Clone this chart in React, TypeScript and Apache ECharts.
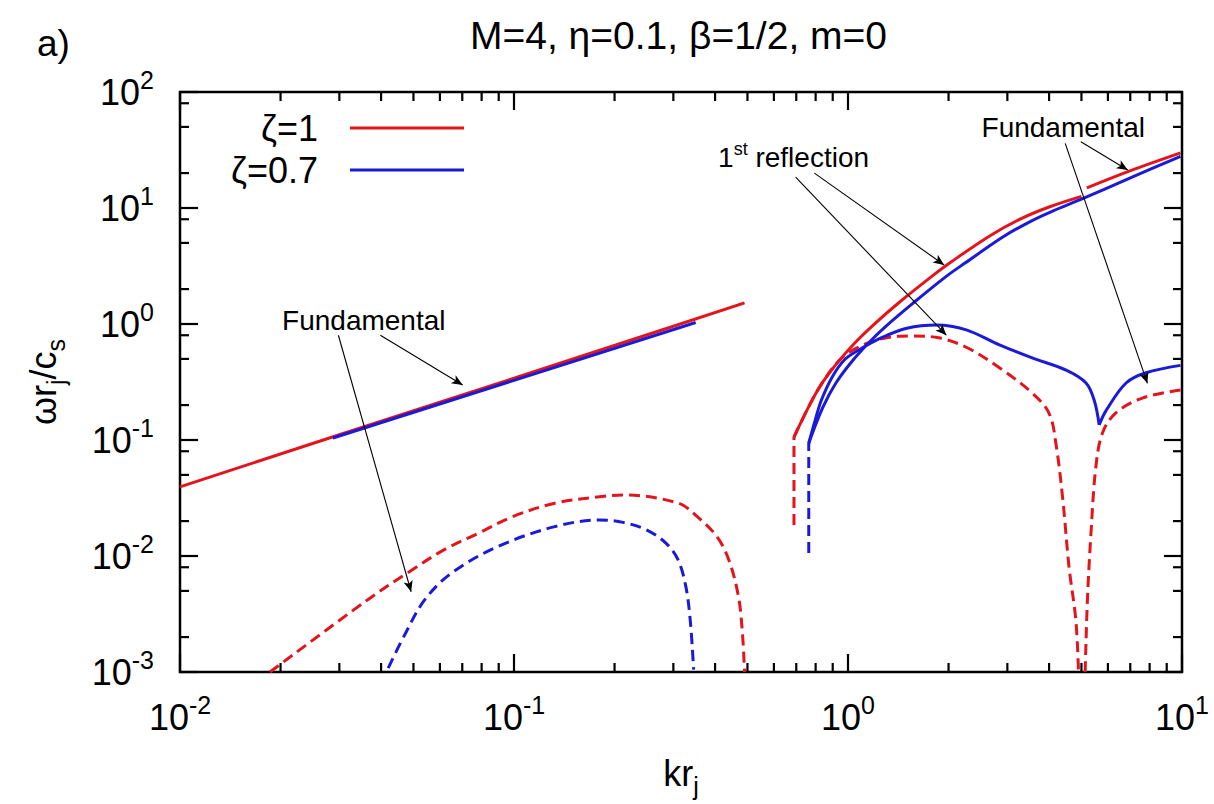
import React, { useEffect, useRef } from "react";
import * as echarts from "echarts";

const RED = "#e3141c";
const BLUE = "#1a1ad8";
const FONT = "'Liberation Sans', Arial, Helvetica, sans-serif";

// ---- data: [kr_j, ωr_j/c_s] ----
// zeta = 1 (red)
const redFundLow: [number, number][] = [
  [0.01, 0.0394], [0.03, 0.111], [0.1, 0.341], [0.3, 0.957], [0.49, 1.52],
];
const redImagLow: [number, number][] = [
  [0.0186, 0.001], [0.0364, 0.00418], [0.0486, 0.00733],
  [0.0617, 0.0113], [0.0781, 0.0157], [0.099, 0.0218], [0.1324, 0.0285],
  [0.1803, 0.0324], [0.212, 0.0336], [0.31, 0.0286], [0.354, 0.0218],
  [0.405, 0.0147], [0.44, 0.0092], [0.47, 0.00446], [0.483, 0.00215], [0.49, 0.001],
];
const redImagCut: [number, number][] = [[0.689, 0.0185], [0.689, 0.106]];
const redFundHigh: [number, number][] = [
  [0.689, 0.106], [0.767, 0.2], [0.84, 0.315], [0.942, 0.486], [1.06, 0.71],
  [1.19, 0.98], [1.425, 1.54], [1.79, 2.6], [2.04, 3.44], [2.67, 5.8],
  [3.3, 8.1], [4.0, 10.2], [5.0, 12.6],
];
const redFundTop: [number, number][] = [[5.19, 14.9], [6.95, 20.8], [9.9, 29.9]];
const redReflLeft: [number, number][] = [
  [0.689, 0.106], [0.767, 0.2], [0.84, 0.315], [0.942, 0.486], [1.06, 0.62],
  [1.27, 0.75], [1.53, 0.79], [1.87, 0.76], [2.26, 0.63], [2.84, 0.42],
  [3.56, 0.254], [4.0, 0.17], [4.2, 0.09], [4.4, 0.03], [4.59, 0.008],
  [4.81, 0.0028], [4.9, 0.001],
];
const redReflRight: [number, number][] = [
  [5.13, 0.001], [5.21, 0.0042], [5.34, 0.0158], [5.52, 0.058], [5.78, 0.115],
  [6.34, 0.171], [7.61, 0.23], [9.9, 0.27],
];

// zeta = 0.7 (blue)
const blueFundLow: [number, number][] = [[0.0287, 0.104], [0.1, 0.327], [0.35, 1.03]];
const blueImagLow: [number, number][] = [
  [0.042, 0.00108], [0.0473, 0.00215], [0.054, 0.00418], [0.0649, 0.0071],
  [0.0891, 0.012], [0.1324, 0.0179], [0.1803, 0.0204], [0.212, 0.0195],
  [0.249, 0.0168], [0.2855, 0.01285], [0.31, 0.00924], [0.327, 0.00544],
  [0.337, 0.0028], [0.345, 0.00105],
];
const blueImagCut: [number, number][] = [[0.763, 0.0106], [0.763, 0.094]];
const blueFundHigh: [number, number][] = [
  [0.763, 0.094], [0.84, 0.19], [0.92, 0.31], [1.03, 0.48], [1.16, 0.7],
  [1.3, 0.96], [1.56, 1.5], [1.96, 2.55], [2.24, 3.35], [2.9, 5.6],
  [3.5, 7.6], [4.1, 9.4], [5.0, 11.9], [6.95, 18.0], [9.9, 27.9],
];
const blueReflLeft: [number, number][] = [
  [0.763, 0.094], [0.798, 0.149], [0.832, 0.22], [0.897, 0.35], [0.975, 0.49],
  [1.08, 0.6], [1.27, 0.77], [1.5, 0.92], [1.84, 0.98], [2.26, 0.89],
  [2.84, 0.66], [3.56, 0.51], [4.5, 0.4], [5.16, 0.31], [5.46, 0.22],
  [5.65, 0.135],
];
const blueReflRight: [number, number][] = [
  [5.65, 0.135], [5.93, 0.18], [6.8, 0.31], [7.8, 0.38], [9.9, 0.44],
];

// ---- axes ----
const xMajorTicks = [0.01, 0.1, 1, 10];
const xMinorTicks = [
  0.02, 0.03, 0.04, 0.05, 0.06, 0.07, 0.08, 0.09,
  0.2, 0.3, 0.4, 0.5, 0.6, 0.7, 0.8, 0.9,
  2, 3, 4, 5, 6, 7, 8, 9,
];
const yMajorTicks = [0.001, 0.01, 0.1, 1, 10, 100];
const yMinorTicks = [0.002, 0.005, 0.008, 0.02, 0.05, 0.08, 0.2, 0.5, 0.8, 2, 5, 8, 20, 50, 80];

// ---- texts ----
const titleText = "M=4, η=0.1, β=1/2, m=0";
const panelText = "a)";
const legendItems = [
  { label: "ζ=1", color: RED },
  { label: "ζ=0.7", color: BLUE },
];
const annotationTexts = [
  { text: "{a|Fundamental}", at: [0.0355, 1.08] },
  { text: "{a|1}{s|st}{a| reflection}", at: [0.687, 27.5] },
  { text: "{a|Fundamental}", at: [4.41, 49] },
];
const arrowLines: [number, number][][] = [
  [[0.0398, 0.8], [0.0702, 0.298]],
  [[0.0298, 0.8], [0.0492, 0.00492]],
  [[0.697, 18.5], [1.97, 0.8]],
  [[0.793, 20.0], [1.94, 3.23]],
  [[4.98, 37.3], [6.88, 21.3]],
  [[4.47, 36.1], [7.88, 0.308]],
];

const lineSeries = (data: [number, number][], color: string, dashed: boolean, smooth = 0.35) => ({
  type: "line",
  data,
  showSymbol: false,
  symbol: "none",
  smooth,
  silent: true,
  z: 3,
  lineStyle: { color, width: 3, type: dashed ? [11, 6] : "solid", cap: "butt" },
  itemStyle: { color },
});

const tickSeries = (axis: "x" | "y", values: number[], len: number) => ({
  type: "custom",
  silent: true,
  z: 6,
  clip: false,
  data: values.map((v) => (axis === "x" ? [v, 1] : [1, v])),
  renderItem: (params: any, api: any) => {
    const cs = params.coordSys;
    const p = api.coord([api.value(0), api.value(1)]);
    const st = { stroke: "#000", lineWidth: 2.2 };
    if (axis === "x") {
      const b = cs.y + cs.height;
      const t = cs.y;
      return {
        type: "group",
        children: [
          { type: "line", shape: { x1: p[0], y1: b, x2: p[0], y2: b - len }, style: st },
          { type: "line", shape: { x1: p[0], y1: t, x2: p[0], y2: t + len }, style: st },
        ],
      };
    }
    const l = cs.x;
    const r = cs.x + cs.width;
    return {
      type: "group",
      children: [
        { type: "line", shape: { x1: l, y1: p[1], x2: l + len, y2: p[1] }, style: st },
        { type: "line", shape: { x1: r, y1: p[1], x2: r - len, y2: p[1] }, style: st },
      ],
    };
  },
});

const expLabel = (v: number) => `{b|10}{s|${Math.round(Math.log10(v))}}`;
const labelRich = {
  b: { fontSize: 36, fontFamily: FONT, color: "#000", lineHeight: 50 },
  s: { fontSize: 25, fontFamily: FONT, color: "#000", verticalAlign: "top" },
};

export default function App() {
  const ref = useRef<HTMLDivElement>(null);
  useEffect(() => {
    if (!ref.current) return;
    const chart = echarts.init(ref.current, undefined, { renderer: "svg" });
    const option: any = {
      animation: false,
      backgroundColor: "#fff",
      title: {
        text: titleText,
        left: 465,
        top: 11,
        textStyle: { fontFamily: FONT, fontSize: 39, fontWeight: "normal", color: "#000" },
      },
      grid: {
        left: 180, right: 32, top: 92, bottom: 132,
        show: true, borderColor: "#000", borderWidth: 2.5, backgroundColor: "transparent",
      },
      xAxis: {
        type: "log", logBase: 10, min: 0.01, max: 10, splitNumber: 3,
        axisLine: { show: false }, axisTick: { show: false }, splitLine: { show: false },
        axisLabel: { formatter: expLabel, rich: labelRich, margin: 20, showMinLabel: true, showMaxLabel: true },
        name: "{a|kr}{s|j}",
        nameLocation: "middle",
        nameGap: 76,
        nameTextStyle: {
          rich: {
            a: { fontSize: 36, fontFamily: FONT, color: "#000", lineHeight: 50 },
            s: { fontSize: 25, fontFamily: FONT, color: "#000", verticalAlign: "bottom" },
          },
        },
      },
      yAxis: {
        type: "log", logBase: 10, min: 0.001, max: 100, splitNumber: 5,
        axisLine: { show: false }, axisTick: { show: false }, splitLine: { show: false },
        axisLabel: { formatter: expLabel, rich: labelRich, margin: 26, showMinLabel: true, showMaxLabel: true },
        name: "{a|ωr}{s|j}{a|/c}{s|s}",
        nameLocation: "middle",
        nameRotate: 90,
        nameGap: 112,
        nameTextStyle: {
          rich: {
            a: { fontSize: 36, fontFamily: FONT, color: "#000", lineHeight: 50 },
            s: { fontSize: 25, fontFamily: FONT, color: "#000", verticalAlign: "bottom" },
          },
        },
      },
      series: [
        lineSeries(redFundLow, RED, false, 0),
        lineSeries(blueFundLow, BLUE, false, 0),
        lineSeries(redImagLow, RED, true),
        lineSeries(blueImagLow, BLUE, true),
        lineSeries(redImagCut, RED, true, 0),
        lineSeries(blueImagCut, BLUE, true, 0),
        lineSeries(redReflLeft, RED, true),
        lineSeries(redReflRight, RED, true),
        lineSeries(redFundHigh, RED, false),
        lineSeries(redFundTop, RED, false),
        lineSeries(blueFundHigh, BLUE, false),
        lineSeries(blueReflLeft, BLUE, false),
        lineSeries(blueReflRight, BLUE, false),
        {
          type: "line",
          data: [],
          silent: true,
          markLine: {
            silent: true,
            symbol: ["none", "arrow"],
            symbolSize: [7, 11],
            label: { show: false },
            lineStyle: { color: "#000", width: 1.1, type: "solid" },
            data: arrowLines.map(([a, b]) => [{ coord: a }, { coord: b }]),
          },
        },
        tickSeries("x", xMajorTicks, 18),
        tickSeries("x", xMinorTicks, 9),
        tickSeries("y", yMajorTicks, 18),
        tickSeries("y", yMinorTicks, 9),
      ],
    };
    chart.setOption(option);

    const px = (p: number[]) => chart.convertToPixel({ seriesIndex: 0 }, p) as number[];
    const annRich = {
      a: { fontSize: 28, fontFamily: FONT, fill: "#000", lineHeight: 34 },
      s: { fontSize: 18, fontFamily: FONT, fill: "#000", verticalAlign: "top" },
    };
    const graphics: any[] = [
      {
        type: "text",
        left: 37,
        top: 25,
        style: { text: panelText, fontSize: 37, fontFamily: FONT, fill: "#000" },
      },
    ];
    annotationTexts.forEach((a) => {
      const p = px(a.at);
      graphics.push({
        type: "text",
        x: p[0],
        y: p[1],
        style: { text: a.text, rich: annRich, align: "center", verticalAlign: "middle", fill: "#000" },
        z: 10,
      });
    });
    legendItems.forEach((it, i) => {
      const y = 128 + i * 42;
      graphics.push({
        type: "text",
        x: 318,
        y,
        style: { text: it.label, fontSize: 36, fontFamily: FONT, fill: "#000", align: "right", verticalAlign: "middle" },
      });
      graphics.push({
        type: "line",
        shape: { x1: 350, y1: y, x2: 464, y2: y },
        style: { stroke: it.color, lineWidth: 3 },
      });
    });
    chart.setOption({ graphic: graphics });

    return () => chart.dispose();
  }, []);
  return (
    <div
      ref={ref}
      style={{ position: "fixed", left: 0, top: 0, width: 1214, height: 804, background: "#fff" }}
    />
  );
}
